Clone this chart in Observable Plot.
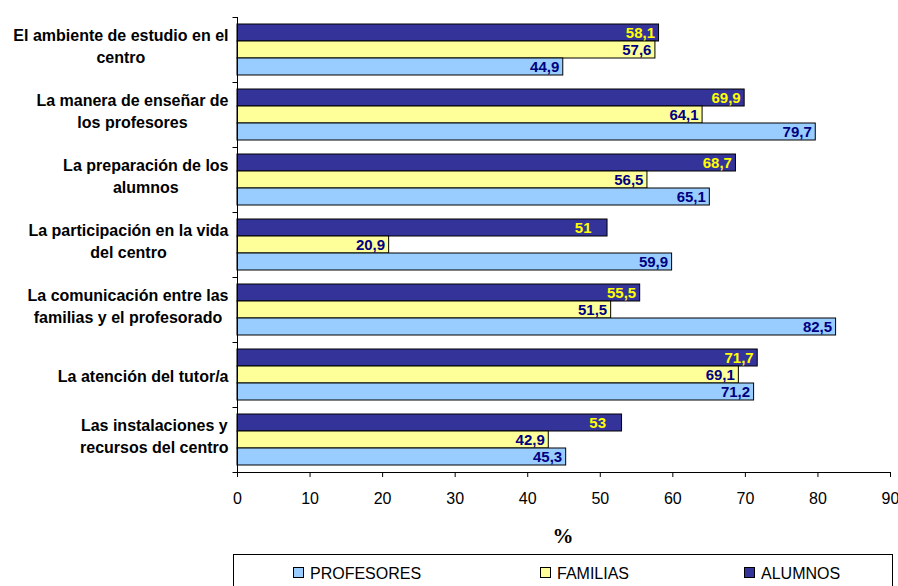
<!DOCTYPE html>
<html>
<head>
<meta charset="utf-8">
<script src="https://cdn.jsdelivr.net/npm/d3@7"></script>
<script src="https://cdn.jsdelivr.net/npm/@observablehq/plot@0.6"></script>
<style>
  html, body { margin: 0; padding: 0; background: #fff; }
  #wrap { position: relative; width: 898px; height: 586px; overflow: hidden; font-family: "Liberation Sans", Arial, sans-serif; }
  #chart { position: absolute; left: 0; top: 0; }
  #pct { position: absolute; left: 513px; width: 100px; top: 524px; text-align: center; font-family: "Liberation Serif", "Times New Roman", serif; font-weight: bold; font-size: 21px; line-height: 24px; }
  #legend { position: absolute; left: 233px; top: 554px; width: 660px; height: 50px; border: 1px solid #000; box-sizing: border-box; }
  .item { position: absolute; top: 10px; font-size: 16px; line-height: 18px; white-space: nowrap; }
  .sw { display: inline-block; width: 9px; height: 9px; border: 1px solid #000; margin-right: 6px; vertical-align: 1px; }
</style>
</head>
<body>
<div id="wrap">
  <div id="chart"></div>
  <div id="pct">%</div>
  <div id="legend"></div>
</div>
<script>
const categories = [
  "El ambiente de estudio en el\ncentro",
  "La manera de enseñar de\nlos profesores",
  "La preparación de los\nalumnos",
  "La participación en la vida\ndel centro",
  "La comunicación entre las\nfamilias y el profesorado",
  "La atención del tutor/a",
  "Las instalaciones y\nrecursos del centro"
];
const series = ["ALUMNOS", "FAMILIAS", "PROFESORES"];
const alumnos    = [58.1, 69.9, 68.7, 51, 55.5, 71.7, 53];
const familias   = [57.6, 64.1, 56.5, 20.9, 51.5, 69.1, 42.9];
const profesores = [44.9, 79.7, 65.1, 59.9, 82.5, 71.2, 45.3];
const xTicks = [0, 10, 20, 30, 40, 50, 60, 70, 80, 90];
const legendOrder = ["PROFESORES", "FAMILIAS", "ALUMNOS"];
const colors = {ALUMNOS: "#333399", FAMILIAS: "#FFFF99", PROFESORES: "#99CCFF"};

const values = {ALUMNOS: alumnos, FAMILIAS: familias, PROFESORES: profesores};
const data = [];
categories.forEach((c, i) => {
  series.forEach(s => data.push({cat: c, series: s, value: values[s][i]}));
});
const fmt = v => Number.isInteger(v) ? String(v) : v.toFixed(1).replace(".", ",");

const W = 898, H = 510, ML = 237, MR = 8, MT = 14, MB = 36;
const axisLen = W - ML - MR;
const tickSym = {draw(ctx) { ctx.moveTo(-5, 0); ctx.lineTo(0, 0); }};
const baseSym = {draw(ctx) { ctx.moveTo(-5, 0); ctx.lineTo(axisLen, 0); }};

function labels(filter, fill, dx) {
  return Plot.text(data.filter(filter), {
    fy: "cat", y: "series", x: "value", text: d => fmt(d.value),
    textAnchor: "end", dx, fill, fontWeight: "bold", fontSize: 15
  });
}

const chart = Plot.plot({
  width: W, height: H,
  marginLeft: ML, marginRight: MR, marginTop: MT, marginBottom: MB,
  style: {fontFamily: "'Liberation Sans', Arial, sans-serif", background: "transparent", overflow: "visible"},
  x: {domain: [0, 90], label: null},
  y: {domain: series, axis: null, paddingInner: 0, paddingOuter: 0.366},
  fy: {domain: categories, padding: 0, label: null},
  color: {domain: series, range: series.map(s => colors[s])},
  marks: [
    Plot.barX(data, {fy: "cat", y: "series", x: "value", fill: "series", stroke: "#000", strokeWidth: 1}),
    Plot.ruleX([0], {stroke: "#000"}),
    labels(d => d.series === "ALUMNOS" && Number.isInteger(d.value), "#FFFF00", -16),
    labels(d => d.series === "ALUMNOS" && !Number.isInteger(d.value), "#FFFF00", -4),
    labels(d => d.series !== "ALUMNOS" && Number.isInteger(d.value), "#000080", -16),
    labels(d => d.series !== "ALUMNOS" && !Number.isInteger(d.value), "#000080", -4),
    Plot.axisX({ticks: xTicks, tickSize: 5, tickPadding: 15, fontSize: 16, label: null, stroke: "#000"}),
    Plot.axisFy({anchor: "left", tickSize: 0, tickPadding: 9, fontSize: 16, fontWeight: "bold", lineHeight: 1.35, label: null}),
    Plot.dot(categories, {fy: d => d, frameAnchor: "top-left", symbol: tickSym, stroke: "#000", fill: "none", strokeWidth: 1}),
    Plot.dot([categories[categories.length - 1]], {fy: d => d, frameAnchor: "bottom-left", symbol: baseSym, stroke: "#000", fill: "none", strokeWidth: 1})
  ]
});
document.getElementById("chart").append(chart);

// center the lines of each multi-line category label within its right-aligned block
chart.querySelectorAll('g[aria-label="fy-axis tick label"] text').forEach(t => {
  const spans = t.querySelectorAll("tspan");
  if (spans.length < 2) return;
  let maxW = 0;
  spans.forEach(s => { maxW = Math.max(maxW, s.getComputedTextLength()); });
  t.setAttribute("text-anchor", "middle");
  spans.forEach(s => s.setAttribute("x", -maxW / 2));
  const tr = t.getAttribute("transform") || "";
  t.setAttribute("transform", tr + " translate(0,-5)");
});

// legend
const legend = document.getElementById("legend");
const itemLeft = {PROFESORES: 59, FAMILIAS: 306, ALUMNOS: 510};
legendOrder.forEach(s => {
  const it = document.createElement("div");
  it.className = "item";
  it.style.left = itemLeft[s] + "px";
  const sw = document.createElement("span");
  sw.className = "sw";
  sw.style.background = colors[s];
  it.append(sw, document.createTextNode(s));
  legend.append(it);
});
</script>
</body>
</html>
